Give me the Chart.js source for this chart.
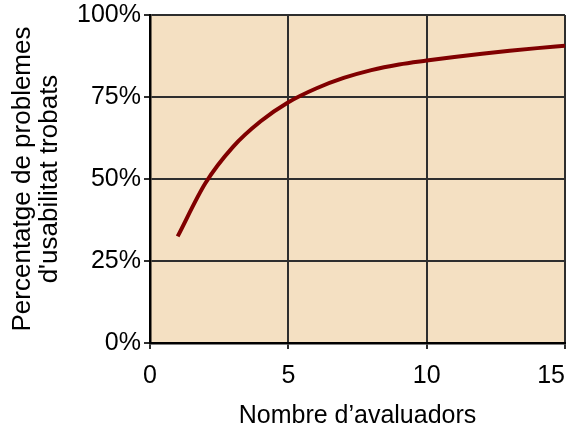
<!DOCTYPE html>
<html>
<head>
    <title>Percentatge de problemes trobats</title>
    <script src="https://cdn.jsdelivr.net/npm/chart.js"></script>
    <style>
        body {
            margin: 0;
            background: #fff;
        }
        #wrap {
            width: 574px;
            height: 430px;
        }
    </style>
</head>
<body>
    <div id="wrap"><canvas id="curveChart" width="574" height="430"></canvas></div>

    <script>
        // values
        const evaluators = [1, 2, 3, 4, 5, 6, 7, 8, 9, 10, 11, 12, 13, 14, 15];
        const foundPct = [32.5, 48.7, 59.8, 67.6, 73.4, 77.6, 80.8, 83.2, 84.9, 86.1, 87.2, 88.2, 89.1, 89.9, 90.6];
        const yTicks = [0, 25, 50, 75, 100];
        const xTicks = [0, 5, 10, 15];

        const fontFamily = "'Liberation Sans', Arial, sans-serif";

        // fill plot area before grid is drawn
        const plotBg = {
            id: 'plotBg',
            beforeDraw(chart) {
                const { ctx, chartArea: a } = chart;
                ctx.save();
                ctx.fillStyle = '#f4e0c2';
                ctx.fillRect(a.left, a.top, a.right - a.left, a.bottom - a.top);
                ctx.restore();
                // last x label sits right-aligned on its tick, like the original
                const items = chart.scales.x.getLabelItems();
                if (items.length) items[items.length - 1].options.textAlign = 'right';
            }
        };

        const ctx = document.getElementById('curveChart').getContext('2d');

        new Chart(ctx, {
            type: 'line',
            data: {
                datasets: [{
                    data: evaluators.map((x, i) => ({ x: x, y: foundPct[i] })),
                    borderColor: '#800000',
                    borderWidth: 4,
                    pointRadius: 0,
                    fill: false,
                    cubicInterpolationMode: 'monotone'
                }]
            },
            plugins: [plotBg],
            options: {
                responsive: false,
                animation: false,
                layout: {
                    padding: { top: 15, right: 9, left: 0, bottom: 0 }
                },
                plugins: {
                    legend: { display: false },
                    tooltip: { enabled: false }
                },
                scales: {
                    x: {
                        type: 'linear',
                        min: 0,
                        max: 15,
                        afterBuildTicks: s => { s.ticks = xTicks.map(v => ({ value: v })); },
                        afterFit: s => {
                            s.height = 87;
                            s.paddingLeft = 0;
                            s.paddingRight = 0;
                        },
                        ticks: {
                            color: '#000',
                            padding: 12,
                            font: { family: fontFamily, size: 25 }
                        },
                        grid: {
                            color: '#2e2e2e',
                            lineWidth: 2,
                            tickLength: 6
                        },
                        border: { color: '#000', width: 2.5 },
                        title: {
                            display: true,
                            text: 'Nombre d\u2019avaluadors',
                            color: '#000',
                            padding: { top: 0, bottom: 0 },
                            font: { family: fontFamily, size: 25, lineHeight: 1.1 }
                        }
                    },
                    y: {
                        min: 0,
                        max: 100,
                        afterBuildTicks: s => { s.ticks = yTicks.map(v => ({ value: v })); },
                        afterFit: s => {
                            s.width = 150;
                            s.paddingTop = 0;
                            s.paddingBottom = 0;
                        },
                        ticks: {
                            color: '#000',
                            padding: 3,
                            font: { family: fontFamily, size: 25 },
                            callback: v => v + '%'
                        },
                        grid: {
                            color: '#2e2e2e',
                            lineWidth: 2,
                            tickLength: 6
                        },
                        border: { color: '#000', width: 2.5 },
                        title: {
                            display: true,
                            text: ['Percentatge de problemes', "d'usabilitat trobats"],
                            color: '#000',
                            padding: { top: 9, bottom: 0 },
                            font: { family: fontFamily, size: 26, lineHeight: 1.05 }
                        }
                    }
                }
            }
        });
    </script>
</body>
</html>
